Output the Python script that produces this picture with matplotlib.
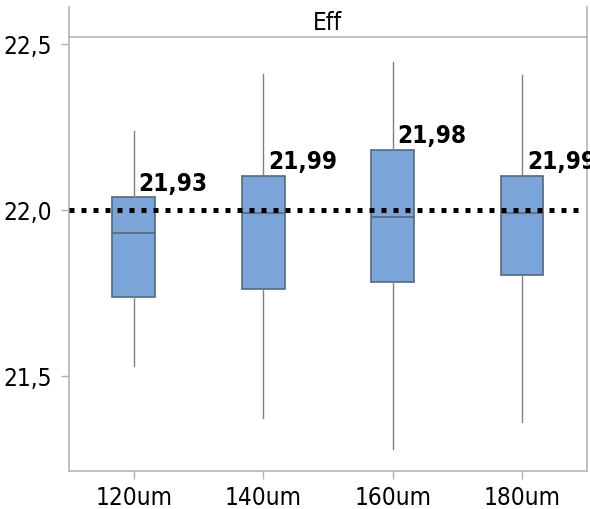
import numpy as np
import matplotlib as mpl
mpl.use("Agg")
import matplotlib.pyplot as plt
from matplotlib import font_manager

# box summaries per cell thickness
groups = ["120um", "140um", "160um", "180um"]
whislo = [21.531, 21.373, 21.280, 21.361]
q1 = [21.739, 21.763, 21.784, 21.803]
med = [21.93, 21.99, 21.98, 21.99]
q3 = [22.038, 22.103, 22.181, 22.103]
whishi = [22.238, 22.408, 22.445, 22.405]
target = 22.0
yticks = [21.5, 22.0, 22.5]


def pick_narrow():
    # look for a condensed sans face, otherwise plain Liberation Sans
    prefer = ["Liberation Sans Narrow", "DejaVu Sans Condensed", "DejaVu Sans",
              "Noto Sans Condensed", "Noto Sans", "Open Sans Condensed",
              "Open Sans", "Roboto Condensed", "Roboto"]
    narrow = [f for f in font_manager.fontManager.ttflist
              if f.stretch in ("condensed", "semi-condensed", "extra-condensed")
              or "Condensed" in f.name or "Narrow" in f.name]
    for name in prefer:
        for f in narrow:
            if f.name == name:
                return f.name, "condensed", True
    return "Liberation Sans", "normal", False


fam, stretch, is_narrow = pick_narrow()
plt.rcParams["font.family"] = [fam, "DejaVu Sans"]
plt.rcParams["font.stretch"] = stretch
tick_fs = 17.5 if is_narrow else 16
lab_fs = 17.5 if is_narrow else 16

fig = plt.figure(figsize=(5.9, 5.1), dpi=100)
ax = fig.add_axes([0.117, 0.074, 0.8774, 0.9103])

stats = []
for i, g in enumerate(groups):
    stats.append(dict(label=g, whislo=whislo[i], q1=q1[i], med=med[i],
                      q3=q3[i], whishi=whishi[i], fliers=[]))

pos = np.arange(1, len(groups) + 1)
ax.bxp(stats, positions=pos, widths=0.33, patch_artist=True,
       showcaps=False,
       boxprops=dict(facecolor="#7ba4d8", edgecolor="#56687c", linewidth=1.2),
       medianprops=dict(color="#56687c", linewidth=1.2),
       whiskerprops=dict(color="#808080", linewidth=1.0))

# reference line at target
ax.axhline(target, color="black", linewidth=3.6, linestyle=(0, (1, 1.4)),
           xmin=0, xmax=0.99, zorder=5)

for i in range(len(groups)):
    ax.annotate(f"{med[i]:.2f}".replace(".", ","), xy=(pos[i], q3[i]),
                xytext=(3.5, 5.5), textcoords="offset points",
                fontsize=lab_fs, fontweight="bold", fontstretch=stretch,
                va="baseline", ha="left")

ax.set_xlim(0.5, 4.5)
ax.set_ylim(21.213, 22.611)
ax.set_xticks(pos)
ax.set_xticklabels(groups)
ax.set_yticks(yticks)
ax.set_yticklabels([f"{v:.1f}".replace(".", ",") for v in yticks])
ax.tick_params(labelsize=tick_fs, length=6, width=1, color="#b0b0b0", pad=4)
ax.tick_params(axis="y", pad=6)

for s in ["left", "right", "bottom"]:
    ax.spines[s].set_color("#b4b4b4")
    ax.spines[s].set_linewidth(1.2)
ax.spines["top"].set_visible(False)

# header strip
ax.plot([0, 1], [0.936, 0.936], transform=ax.transAxes, color="#b4b4b4",
        linewidth=1.2, clip_on=False)
ax.text(0.5, 0.968, "Eff", transform=ax.transAxes, ha="center", va="center",
        fontsize=tick_fs)

fig.savefig("out.png", dpi=100)
